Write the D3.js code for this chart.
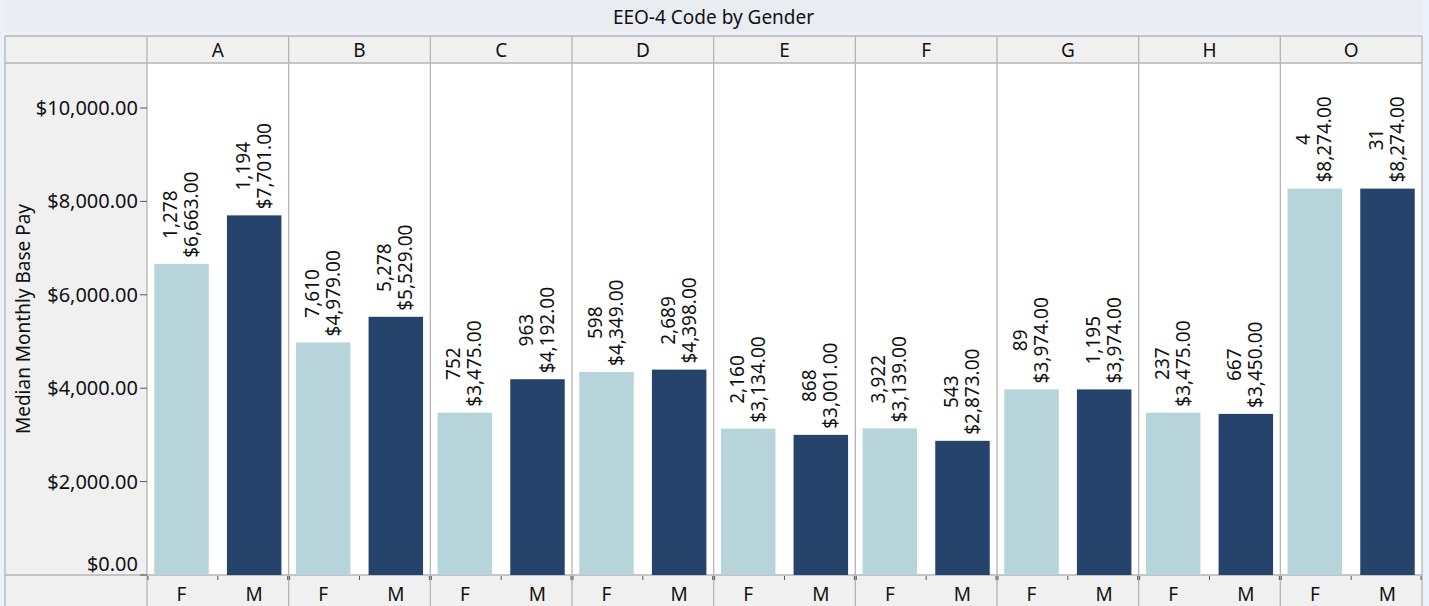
<!DOCTYPE html>
<html>
<head>
<meta charset="utf-8">
<script src="https://cdn.jsdelivr.net/npm/d3@7"></script>
<style>
  body { margin: 0; background: #eaf1fb; }
  text { font-family: "Noto Sans", "Open Sans", sans-serif; fill: #111; }
</style>
</head>
<body>
<div class="container"></div>
<script>
var width = 1429;
var height = 606;

// EEO-4 codes and the two genders inside each panel
var codes = ["A", "B", "C", "D", "E", "F", "G", "H", "O"];
var genders = ["F", "M"];
// median monthly base pay
var femalePay = [6663, 4979, 3475, 4349, 3134, 3139, 3974, 3475, 8274];
var malePay = [7701, 5529, 4192, 4398, 3001, 2873, 3974, 3450, 8274];
// headcounts shown above each bar
var femaleCount = [1278, 7610, 752, 598, 2160, 3922, 89, 237, 4];
var maleCount = [1194, 5278, 963, 2689, 868, 543, 1195, 667, 31];
var yTicks = [0, 2000, 4000, 6000, 8000, 10000];

var frame = { left: 5, right: 1422, top: 36, header: 63, bottom: 575, axisX: 147 };
var colors = { F: "#b6d4d9", M: "#26446b" };
var gridColor = "#b4b4b4";
var fontSize = 19;

var svg = d3.select(".container").append("svg")
  .attr("width", width)
  .attr("height", height);

var panelScale = d3.scaleBand().domain(codes).range([frame.axisX, frame.right]);
var genderScale = d3.scaleBand().domain(genders)
  .range([0, panelScale.bandwidth()])
  .paddingInner(0.25)
  .paddingOuter(0.1);
var yScale = d3.scaleLinear().domain([0, 10000]).range([frame.bottom, 108]);

var money = d3.format("$,.2f");
var count = d3.format(",");

// flatten into rows for the data join
var rows = [];
codes.forEach(function (c, i) {
  rows.push({ code: c, gender: "F", pay: femalePay[i], n: femaleCount[i] });
  rows.push({ code: c, gender: "M", pay: malePay[i], n: maleCount[i] });
});

renderFrame();
renderAxes();
renderBars(rows);
renderLabels(rows);

function renderFrame() {
  // title bar
  svg.append("rect")
    .attr("x", 4).attr("y", 0)
    .attr("width", frame.right - 3).attr("height", 32)
    .style("fill", "#e9ecf1");
  svg.append("text")
    .attr("x", (frame.left + frame.right) / 2)
    .attr("y", 17)
    .attr("dy", "0.35em")
    .style("text-anchor", "middle")
    .style("font-size", fontSize + "px")
    .text("EEO-4 Code by Gender");

  // gray areas: header, y axis panel, bottom axis row
  svg.append("rect")
    .attr("x", frame.left).attr("y", frame.top)
    .attr("width", frame.right - frame.left).attr("height", height - frame.top)
    .style("fill", "#f0f0f0");
  svg.append("rect")
    .attr("x", frame.axisX).attr("y", frame.header)
    .attr("width", frame.right - frame.axisX).attr("height", frame.bottom - frame.header)
    .style("fill", "#fff");

  var lines = svg.append("g").style("stroke", gridColor).style("stroke-width", 1.3);
  lines.append("line").attr("x1", frame.left).attr("x2", frame.right)
    .attr("y1", frame.top).attr("y2", frame.top);
  lines.append("line").attr("x1", frame.left).attr("x2", frame.right)
    .attr("y1", frame.header).attr("y2", frame.header);
  lines.append("line").attr("x1", frame.left).attr("x2", frame.right)
    .attr("y1", frame.bottom).attr("y2", frame.bottom);
  lines.append("line").attr("x1", frame.left).attr("x2", frame.left)
    .attr("y1", frame.top).attr("y2", height);
  lines.append("line").attr("x1", frame.right).attr("x2", frame.right)
    .attr("y1", frame.top).attr("y2", height);
  lines.append("line").attr("x1", frame.axisX).attr("x2", frame.axisX)
    .attr("y1", frame.top).attr("y2", height);

  // panel separators and header labels
  codes.forEach(function (c, i) {
    var x0 = panelScale(c);
    if (i > 0) {
      lines.append("line").attr("x1", x0).attr("x2", x0)
        .attr("y1", frame.top).attr("y2", height);
    }
    svg.append("text")
      .attr("x", x0 + panelScale.bandwidth() / 2)
      .attr("y", (frame.top + frame.header) / 2 + 1)
      .attr("dy", "0.35em")
      .style("text-anchor", "middle")
      .style("font-size", fontSize + "px")
      .text(c);
  });
}

function renderAxes() {
  var axisG = svg.append("g");
  yTicks.forEach(function (t) {
    var y = yScale(t);
    axisG.append("line")
      .attr("x1", frame.axisX - 7).attr("x2", frame.axisX)
      .attr("y1", y).attr("y2", y)
      .style("stroke", "#555");
    axisG.append("text")
      .attr("x", frame.axisX - 9)
      .attr("y", t === 0 ? y - 11 : y)
      .attr("dy", "0.35em")
      .style("text-anchor", "end")
      .style("font-size", "20px")
      .text(money(t));
  });

  svg.append("text")
    .attr("transform", "rotate(-90)")
    .attr("x", -(frame.header + frame.bottom) / 2)
    .attr("y", 23)
    .attr("dy", "0.35em")
    .style("text-anchor", "middle")
    .style("font-size", fontSize + "px")
    .text("Median Monthly Base Pay");

  // bottom F / M labels with small ticks between them
  codes.forEach(function (c) {
    var x0 = panelScale(c);
    var step = genderScale.step();
    var mid = x0 + genderScale("M") - step * genderScale.paddingInner() / 2;
    [x0 + 1, mid, x0 + panelScale.bandwidth() - 1].forEach(function (tx) {
      svg.append("line")
        .attr("x1", tx).attr("x2", tx)
        .attr("y1", frame.bottom + 1).attr("y2", frame.bottom + 5)
        .style("stroke", "#555");
    });
    genders.forEach(function (g) {
      svg.append("text")
        .attr("x", x0 + genderScale(g) + genderScale.bandwidth() / 2)
        .attr("y", 601)
        .style("text-anchor", "middle")
        .style("font-size", fontSize + "px")
        .text(g);
    });
  });
}

function renderBars(data) {
  svg.selectAll("rect.bar")
    .data(data)
    .enter().append("rect")
    .attr("class", "bar")
    .attr("x", function (d) { return panelScale(d.code) + genderScale(d.gender); })
    .attr("width", genderScale.bandwidth())
    .attr("y", function (d) { return yScale(d.pay); })
    .attr("height", function (d) { return frame.bottom - yScale(d.pay); })
    .style("fill", function (d) { return colors[d.gender]; });
}

function renderLabels(data) {
  data.forEach(function (d) {
    var cx = panelScale(d.code) + genderScale(d.gender) + genderScale.bandwidth() / 2;
    var top = yScale(d.pay);
    var g = svg.append("g");
    var valueText = g.append("text")
      .style("font-size", fontSize + "px")
      .style("text-anchor", "middle")
      .text(money(d.pay));
    var len = valueText.node().getComputedTextLength();
    // both lines centred on the same point, the longer one ends just above the bar
    var cy = top - 6 - len / 2;
    g.append("text")
      .style("font-size", fontSize + "px")
      .style("text-anchor", "middle")
      .attr("transform", "translate(" + (cx - 11) + "," + cy + ") rotate(-90)")
      .attr("dy", "0.35em")
      .text(count(d.n));
    valueText
      .attr("transform", "translate(" + (cx + 10) + "," + cy + ") rotate(-90)")
      .attr("dy", "0.35em");
  });
}
</script>
</body>
</html>
